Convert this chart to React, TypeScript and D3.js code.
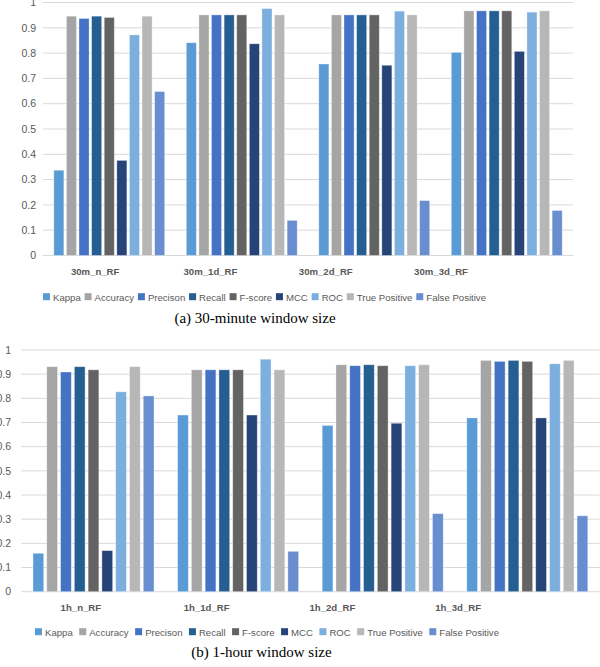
import React, { useMemo } from "react";
import * as d3 from "d3";

const seriesNames = ["Kappa", "Accuracy", "Precison", "Recall", "F-score", "MCC", "ROC", "True Positive", "False Positive"];
const seriesColors = ["#5B9BD5", "#A5A5A5", "#4472C4", "#255E91", "#636363", "#264478", "#7CAFDD", "#B7B7B7", "#698ED0"];
const yTicks = [0, 0.1, 0.2, 0.3, 0.4, 0.5, 0.6, 0.7, 0.8, 0.9, 1];

// (a) 30-minute window size
const categories30 = ["30m_n_RF", "30m_1d_RF", "30m_2d_RF", "30m_3d_RF"];
const row30n = [0.337, 0.946, 0.937, 0.946, 0.941, 0.376, 0.872, 0.946, 0.648];
const row30d1 = [0.841, 0.951, 0.951, 0.951, 0.951, 0.837, 0.976, 0.951, 0.139];
const row30d2 = [0.757, 0.951, 0.951, 0.951, 0.951, 0.752, 0.966, 0.951, 0.217];
const row30d3 = [0.803, 0.967, 0.967, 0.967, 0.967, 0.807, 0.962, 0.967, 0.178];

// (b) 1-hour window size
const categories1h = ["1h_n_RF", "1h_1d_RF", "1h_2d_RF", "1h_3d_RF"];
const row1hn = [0.159, 0.931, 0.909, 0.931, 0.918, 0.170, 0.827, 0.931, 0.810];
const row1hd1 = [0.731, 0.918, 0.918, 0.918, 0.918, 0.731, 0.962, 0.918, 0.167];
const row1hd2 = [0.688, 0.939, 0.935, 0.939, 0.935, 0.697, 0.935, 0.939, 0.323];
const row1hd3 = [0.719, 0.957, 0.953, 0.957, 0.953, 0.719, 0.943, 0.957, 0.314];

const FONT = "'Liberation Sans', Arial, sans-serif";
const TEXT = "#595959";
const GRID = "#D9D9D9";

let ctx: CanvasRenderingContext2D | null = null;
function measure(text: string, font: string) {
  if (!ctx) ctx = document.createElement("canvas").getContext("2d");
  if (!ctx) return text.length * 6;
  ctx.font = font;
  return ctx.measureText(text).width;
}

type PanelProps = {
  categories: string[];
  rows: number[][];
  plotX: [number, number];
  plotY: [number, number];
  tickX: number;
  labelRange: [number, number];
  labelY: number;
  legendRange: [number, number];
  legendY: number;
  caption: string;
  captionX: number;
  captionY: number;
  barPad: number;
};

function Panel(p: PanelProps) {
  const x0 = d3.scaleBand<string>().domain(p.categories).range(p.plotX).paddingInner(0.163).paddingOuter(0.0815);
  const x1 = d3.scaleBand<string>().domain(seriesNames).range([0, x0.bandwidth()]).paddingInner(p.barPad).paddingOuter(0);
  const y = d3.scaleLinear().domain([0, 1]).range(p.plotY);
  const xl = d3.scaleBand<string>().domain(p.categories).range(p.labelRange);

  const fs = 10.5;
  const lfs = 9.6;
  const legendFont = `${lfs}px 'Liberation Sans'`;
  const legend = useMemo(() => {
    const sq = 7, gapSq = 3;
    const widths = seriesNames.map((s) => sq + gapSq + measure(s, legendFont));
    const total = d3.sum(widths);
    const gap = (p.legendRange[1] - p.legendRange[0] - total) / (seriesNames.length - 1);
    let cx = p.legendRange[0];
    return seriesNames.map((s, i) => {
      const item = { name: s, x: cx, color: seriesColors[i] };
      cx += widths[i] + gap;
      return item;
    });
  }, [p.legendRange[0], p.legendRange[1]]);

  return (
    <g>
      {yTicks.map((t) => (
        <g key={t}>
          <line x1={p.plotX[0]} x2={p.plotX[1]} y1={y(t)} y2={y(t)} stroke={GRID} strokeWidth={1} />
          <text x={p.tickX} y={y(t) + 3.7} textAnchor="end" fontSize={fs} fill={TEXT} fontFamily={FONT}>
            {d3.format("~g")(t)}
          </text>
        </g>
      ))}
      {p.categories.map((c, ci) => (
        <g key={c} transform={`translate(${x0(c)},0)`}>
          {seriesNames.map((s, si) => {
            const v = p.rows[ci][si];
            return (
              <rect
                key={s}
                x={x1(s)}
                y={y(v)}
                width={x1.bandwidth()}
                height={y(0) - y(v)}
                fill={seriesColors[si]}
                stroke="#ffffff"
                strokeOpacity={0.45}
                strokeWidth={0.8}
              />
            );
          })}
        </g>
      ))}
      {p.categories.map((c) => (
        <text
          key={c}
          x={(xl(c) as number) + xl.bandwidth() / 2}
          y={p.labelY}
          textAnchor="middle"
          fontSize={9.6}
          fontWeight="bold"
          fill={TEXT}
          fontFamily={FONT}
        >
          {c}
        </text>
      ))}
      {legend.map((l) => (
        <g key={l.name}>
          <rect x={l.x} y={p.legendY - 7.3} width={7} height={7} fill={l.color} />
          <text x={l.x + 10} y={p.legendY} fontSize={lfs} fill={TEXT} fontFamily={FONT}>
            {l.name}
          </text>
        </g>
      ))}
      <text
        x={p.captionX}
        y={p.captionY}
        textAnchor="middle"
        fontSize={15}
        fill="#000"
        fontFamily="'Liberation Serif', 'DejaVu Serif', serif"
      >
        {p.caption}
      </text>
    </g>
  );
}

export default function App() {
  return (
    <svg
      width={600}
      height={667}
      viewBox="0 0 600 667"
      style={{ position: "fixed", left: 0, top: 0, background: "#fff" }}
    >
      <rect x={0} y={0} width={600} height={667} fill="#fff" />
      <Panel
        categories={categories30}
        rows={[row30n, row30d1, row30d2, row30d3]}
        plotX={[43, 573]}
        plotY={[255.5, 2.5]}
        tickX={36}
        labelRange={[37.5, 498.7]}
        labelY={274.5}
        legendRange={[43, 486]}
        legendY={300.5}
        caption="(a) 30-minute window size"
        captionX={255}
        captionY={323}
        barPad={0.2}
      />
      <Panel
        categories={categories1h}
        rows={[row1hn, row1hd1, row1hd2, row1hd3]}
        plotX={[21.2, 599.6]}
        plotY={[591.7, 350]}
        tickX={11}
        labelRange={[18, 521]}
        labelY={610.5}
        legendRange={[35, 499]}
        legendY={635.5}
        caption="(b) 1-hour window size"
        captionX={261.5}
        captionY={656.5}
        barPad={0.22}
      />
    </svg>
  );
}
